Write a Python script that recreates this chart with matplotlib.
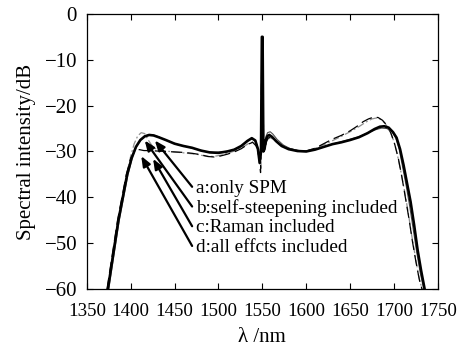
import matplotlib
matplotlib.use('Agg')
import matplotlib.pyplot as plt
import matplotlib.ticker as ticker

plt.rcParams['font.family'] = ['Liberation Serif', 'DejaVu Serif']
plt.rcParams['mathtext.fontset'] = 'stix'

# a: only SPM (thick solid)
wl_a = [1374, 1378, 1382, 1386, 1391, 1396, 1401, 1406, 1411, 1416, 1421, 1426, 1432, 1440,
        1450, 1460, 1470, 1480, 1490, 1500, 1510, 1518, 1526, 1533, 1538, 1542, 1545, 1547,
        1548.5, 1549.5, 1550.3, 1551.2, 1552.5, 1554, 1556, 1558, 1561, 1566, 1572, 1580,
        1590, 1600, 1610, 1620, 1630, 1640, 1650, 1660, 1670, 1678, 1684, 1689, 1694, 1699,
        1703, 1707, 1711, 1715, 1719, 1723, 1727, 1731, 1735]
db_a = [-60, -55, -50, -45, -40, -35, -31.5, -29, -27.5, -26.7, -26.4, -26.5, -26.9, -27.5,
        -28.3, -28.8, -29.2, -29.8, -30.2, -30.3, -30.0, -29.6, -28.8, -27.7, -27.1, -27.6, -29.5, -32.5,
        -30, -5, -5, -30, -29.5, -27.5, -26.6, -26.4, -26.8, -27.8, -28.8, -29.5,
        -29.9, -30.0, -29.6, -29.0, -28.4, -28.0, -27.5, -26.9, -26.0, -25.1, -24.6, -24.5, -24.8, -25.8,
        -27.0, -29.5, -33, -37, -41, -46, -51.5, -56, -60]

# b: self-steepening included (thin solid)
wl_b = [1375, 1379, 1383, 1387, 1392, 1397, 1402, 1407, 1412, 1417, 1422, 1428, 1435, 1445,
        1455, 1465, 1475, 1485, 1495, 1505, 1515, 1523, 1530, 1536, 1540, 1544, 1547,
        1548.6, 1549.4, 1550.2, 1551, 1552.5, 1554, 1556, 1559, 1562, 1567, 1574, 1582,
        1592, 1602, 1615, 1630, 1645, 1660, 1672, 1680, 1686, 1692, 1698,
        1702, 1706, 1710, 1714, 1718, 1722, 1726, 1730, 1734]
db_b = [-60, -55, -50, -45, -40, -35, -31.2, -28.7, -27.3, -26.6, -26.3, -26.5, -27.1, -27.9,
        -28.6, -29.0, -29.5, -30.0, -30.2, -30.1, -29.8, -29.2, -28.2, -27.4, -27.3, -28.5, -31.5,
        -29, -15.5, -15.5, -29, -28.5, -26.8, -25.9, -25.7, -26.2, -27.4, -28.6, -29.4,
        -29.8, -29.9, -29.3, -28.4, -27.6, -26.8, -25.8, -25.2, -24.9, -25.0, -25.7,
        -27.0, -29.5, -33.5, -37.5, -42, -47, -52, -56.5, -60]

# c: Raman included (dashed)
wl_c = [1373, 1377, 1381, 1385, 1390, 1395, 1400, 1405, 1410, 1415, 1420, 1430, 1440, 1450,
        1460, 1470, 1480, 1488, 1495, 1502, 1510, 1518, 1526, 1533, 1539, 1543, 1546, 1548,
        1549.6, 1550.4, 1551.5, 1553, 1556, 1559, 1563, 1570, 1580, 1590, 1600, 1610, 1620,
        1630, 1640, 1650, 1658, 1665, 1671, 1677, 1682, 1687, 1692, 1697, 1701, 1705,
        1709, 1713, 1717, 1721, 1725, 1729, 1732]
db_c = [-60, -55, -50, -45, -40, -35, -31.5, -29.6, -29.6, -29.8, -29.8, -29.9, -30.0, -30.1,
        -30.2, -30.4, -30.7, -31.1, -31.2, -31.0, -30.6, -30.1, -29.4, -28.5, -28.0, -28.8, -31.0, -34.6,
        -5, -5, -30, -29, -27.2, -26.8, -27.3, -28.4, -29.3, -29.8, -29.9, -29.3, -28.3,
        -27.3, -26.5, -25.5, -24.5, -23.5, -22.9, -22.5, -22.6, -23.2, -24.3, -26.2, -28.5, -31.5,
        -35.5, -40, -44.5, -49.5, -54, -58, -60]

# d: all effects included (grey dash-dot)
wl_d = [1373.5, 1377.5, 1381.5, 1385.5, 1390.5, 1395.5, 1400, 1404, 1408, 1412, 1416, 1420,
        1426, 1434, 1445, 1460, 1475, 1485, 1494, 1503, 1512, 1520, 1528, 1535, 1540, 1544,
        1547, 1548.5, 1549.6, 1550.4, 1551.5, 1553, 1556, 1559, 1563, 1570, 1580, 1590,
        1600, 1612, 1625, 1638, 1650, 1660, 1668, 1675, 1680, 1685, 1690, 1695, 1700,
        1704, 1708, 1712, 1716, 1720, 1724, 1728, 1732]
db_d = [-60, -55, -50, -45, -40, -35, -31, -28.3, -26.6, -25.9, -26.1, -27.5,
        -29.2, -29.8, -30.0, -30.3, -30.6, -31.0, -31.1, -30.8, -30.3, -29.8, -29.0, -28.2, -27.9, -28.6,
        -30.5, -34, -5, -5, -30, -29.2, -27.4, -27.0, -27.4, -28.5, -29.4, -29.8,
        -29.9, -29.2, -28.1, -26.9, -25.7, -24.6, -23.6, -22.9, -22.7, -23.0, -23.9, -25.4, -27.8,
        -30.8, -34.5, -38.5, -43, -48, -52.5, -57, -60]

labels = ['a:only SPM', 'b:self-steepening included', 'c:Raman included', 'd:all effcts included']
label_y = [-38.0, -42.3, -46.6, -50.9]
head_x = [1427.5, 1416, 1425.5, 1412]
head_y = [-27.6, -27.6, -31.6, -31.0]

fig = plt.figure(figsize=(4.57, 3.56), dpi=100)
ax = fig.add_axes([0.190, 0.188, 0.768, 0.773])

ax.plot(wl_d, db_d, color='#909090', lw=0.9, ls=(0, (6, 2, 1.5, 2)))
ax.plot(wl_c, db_c, color='black', lw=0.9, ls=(0, (9, 4)))
ax.plot(wl_b, db_b, color='#505050', lw=0.8)
ax.plot(wl_a, db_a, color='black', lw=1.9)

for lab, ty, hx, hy in zip(labels, label_y, head_x, head_y):
    ax.annotate('', xy=(hx, hy), xytext=(1470, ty + 0.3),
                arrowprops=dict(arrowstyle='-|>,head_length=0.5,head_width=0.2',
                                color='black', lw=1.6,
                                mutation_scale=12, shrinkA=0, shrinkB=0))
    ax.text(1474, ty, lab, fontsize=13.8, va='center', ha='left')

ax.set_xlim(1350, 1750)
ax.set_ylim(-60, 0)
ax.xaxis.set_major_locator(ticker.MultipleLocator(50))
ax.yaxis.set_major_locator(ticker.MultipleLocator(10))
ax.tick_params(direction='in', top=True, right=True, length=4, width=0.8,
               labelsize=15)
ax.tick_params(axis='x', pad=10, labelsize=13.6)
ax.tick_params(axis='y', pad=7)
for s in ax.spines.values():
    s.set_linewidth(0.9)

ax.set_xlabel('λ /nm', fontsize=15, labelpad=6)
ax.set_ylabel('Spectral intensity/dB', fontsize=15, labelpad=6)

fig.savefig('out.png', dpi=100)
